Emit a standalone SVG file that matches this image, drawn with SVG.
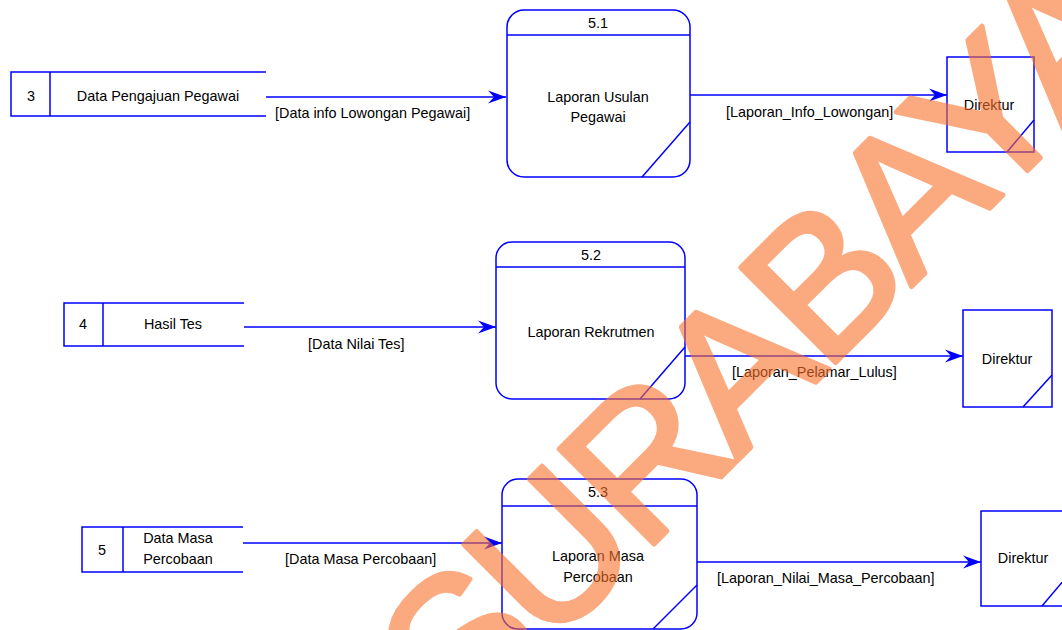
<svg xmlns="http://www.w3.org/2000/svg" width="1062" height="630" viewBox="0 0 1062 630">
<defs>
<marker id="arr" markerUnits="userSpaceOnUse" markerWidth="20" markerHeight="16" viewBox="-19 -8 20 16" refX="0" refY="0" orient="auto">
<path d="M0,0 L-18,-6.5 L-12,0 L-18,6.5 Z" fill="#0000FF"/>
</marker>
</defs>
<style>
.ln{stroke:#0000FF;stroke-width:1.5;fill:none}
.bx{stroke:#0000FF;stroke-width:1.5;fill:#FFFFFF}
.t{font-family:"Liberation Sans",Arial,sans-serif;font-size:14.4px;fill:#000000}
.c{text-anchor:middle}
.wm{font-family:"Liberation Sans",Arial,sans-serif;font-size:195px;letter-spacing:-7px;fill:#FA712B;stroke:#FA712B;stroke-width:5;stroke-linejoin:round;opacity:0.6}
</style>
<rect width="1062" height="630" fill="#FFFFFF"/>

<g id="connectors">
<line class="ln" x1="266" y1="97" x2="506" y2="97" marker-end="url(#arr)"/>
<text class="t" x="275" y="118">[Data info Lowongan Pegawai]</text>
<line class="ln" x1="690" y1="95" x2="947" y2="95" marker-end="url(#arr)"/>
<text class="t" x="726" y="117">[Laporan_Info_Lowongan]</text>
<line class="ln" x1="244" y1="327" x2="496" y2="327" marker-end="url(#arr)"/>
<text class="t" x="308" y="349">[Data Nilai Tes]</text>
<line class="ln" x1="685" y1="356" x2="963" y2="356" marker-end="url(#arr)"/>
<text class="t" x="732" y="377">[Laporan_Pelamar_Lulus]</text>
<line class="ln" x1="243" y1="543" x2="502" y2="543" marker-end="url(#arr)"/>
<text class="t" x="285" y="564">[Data Masa Percobaan]</text>
<line class="ln" x1="697" y1="562" x2="981" y2="562" marker-end="url(#arr)"/>
<text class="t" x="717" y="583">[Laporan_Nilai_Masa_Percobaan]</text>
</g>

<g id="store3">
<path class="ln" d="M266,72 H11 V116 H266 M50,72 V116"/>
<text class="t c" x="31" y="101">3</text>
<text class="t c" x="158" y="101">Data Pengajuan Pegawai</text>
</g>

<g id="store4">
<path class="ln" d="M244,303 H64 V346 H244 M103,303 V346"/>
<text class="t c" x="83" y="329">4</text>
<text class="t c" x="173" y="329">Hasil Tes</text>
</g>

<g id="store5">
<path class="ln" d="M243,527 H82 V572 H243 M123,527 V572"/>
<text class="t c" x="102" y="555">5</text>
<text class="t c" x="178" y="543">Data Masa</text>
<text class="t c" x="178" y="564">Percobaan</text>
</g>

<g id="p51">
<rect class="bx" x="507" y="10" width="183" height="167" rx="17" ry="17"/>
<line class="ln" x1="507" y1="35" x2="690" y2="35"/>
<line class="ln" x1="690" y1="122" x2="642" y2="177"/>
<text class="t c" x="598" y="28">5.1</text>
<text class="t c" x="598" y="102">Laporan Usulan</text>
<text class="t c" x="598" y="122">Pegawai</text>
</g>

<g id="p52">
<rect class="bx" x="496" y="242" width="189" height="157" rx="16" ry="16"/>
<line class="ln" x1="496" y1="267" x2="685" y2="267"/>
<line class="ln" x1="685" y1="347" x2="640" y2="399"/>
<text class="t c" x="591" y="260">5.2</text>
<text class="t c" x="591" y="337">Laporan Rekrutmen</text>
</g>

<g id="p53">
<rect class="bx" x="502" y="479" width="195" height="150" rx="16" ry="16"/>
<line class="ln" x1="502" y1="506" x2="697" y2="506"/>
<line class="ln" x1="697" y1="585" x2="653" y2="629"/>
<text class="t c" x="598" y="497">5.3</text>
<text class="t c" x="598" y="561">Laporan Masa</text>
<text class="t c" x="598" y="582">Percobaan</text>
</g>

<g id="dir1">
<rect class="bx" x="947" y="57" width="87" height="95"/>
<line class="ln" x1="1034" y1="120" x2="1007" y2="152"/>
<text class="t c" x="989" y="110">Direktur</text>
</g>

<g id="dir2">
<rect class="bx" x="963" y="310" width="89" height="97"/>
<line class="ln" x1="1052" y1="375" x2="1023" y2="407"/>
<text class="t c" x="1007" y="364">Direktur</text>
</g>

<g id="dir3">
<rect class="bx" x="981" y="511" width="88" height="95"/>
<line class="ln" x1="1069" y1="574" x2="1042" y2="606"/>
<text class="t c" x="1023" y="563">Direktur</text>
</g>

<g id="watermark">
<text class="wm" transform="translate(461,737) rotate(-45)">SURABAYA</text>
</g>
</svg>
